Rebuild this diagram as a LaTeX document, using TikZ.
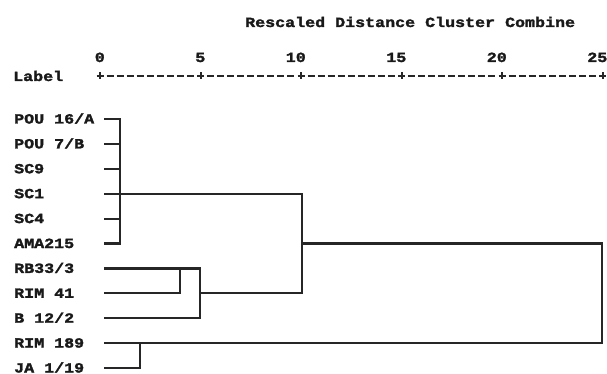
\documentclass[tikz,border=0pt]{standalone}
\usepackage{fontspec}
\newfontfamily\spss[FakeStretch=1.19,FakeBold=2]{Liberation Mono Bold}
\tikzset{
  txt/.style={inner sep=0pt, anchor=base west, font=\spss\fontsize{14}{16}\selectfont, text=black!90},
  num/.style={inner sep=0pt, anchor=base east, font=\spss\fontsize{14}{16}\selectfont, text=black!90},
  link/.style={line width=2.2pt, black!85, line join=miter, line cap=rect},
  axisln/.style={line width=2pt, black!85}
}
\begin{document}
\begin{tikzpicture}[x=1pt,y=-1pt]
\path[use as bounding box] (0,0) rectangle (607,374);
% title and axis
\node[txt] (title) at (245,27) {Rescaled Distance Cluster Combine};
\node[txt] (lab) at (13,81) {Label};
\foreach \t/\n in {0/0,1/5,2/10,3/15,4/20,5/25}{
  \node[num] (n\t) at ({100+\t*100.5+5},62) {\n};
  \draw[axisln] ({100+\t*100.5},72.5) -- ({100+\t*100.5},79.5);
}
\foreach \k in {0,...,50}{
  \draw[axisln] ({100+\k*10.05-3.5},76) -- ({100+\k*10.05+3.5},76);
}
% leaves
\foreach \i/\name in {0/{POU 16/A},1/{POU 7/B},2/{SC9},3/{SC1},4/{SC4},5/{AMA215},6/{RB33/3},7/{RIM 41},8/{B 12/2},9/{RIM 189},10/{JA 1/19}}{
  \node[txt] (t\i) at (14,{119+\i*24.9+4.5}) {\name};
  \coordinate (l\i) at (105,{119+\i*24.9});
}
% merge points
\coordinate (a0) at (120,119);
\coordinate (a5) at (120,{119+5*24.9});
\foreach \i in {0,1,2,4,5}{
  \draw[link] (l\i) -- (l\i -| a0);
}
\draw[link] (a0) -- (a5);
\coordinate (b) at (180,0);
\coordinate (c) at (200,0);
\coordinate (d) at (302,0);
\coordinate (e) at (602,0);
\coordinate (f) at (140,0);
\draw[link] (l7) -- (l7 -| b) -- (l6 -| b);
\draw[link] (l6) -- (l6 -| c) -- (l8 -| c) -- (l8);
\draw[link] (l3) -- (l3 -| d) -- (l7 -| d) -- (l7 -| c);
\draw[link] (l5 -| d) -- (l5 -| e) -- (l9 -| e) -- (l9);
\draw[link] (l10) -- (l10 -| f) -- (l9 -| f);
\end{tikzpicture}
\end{document}
